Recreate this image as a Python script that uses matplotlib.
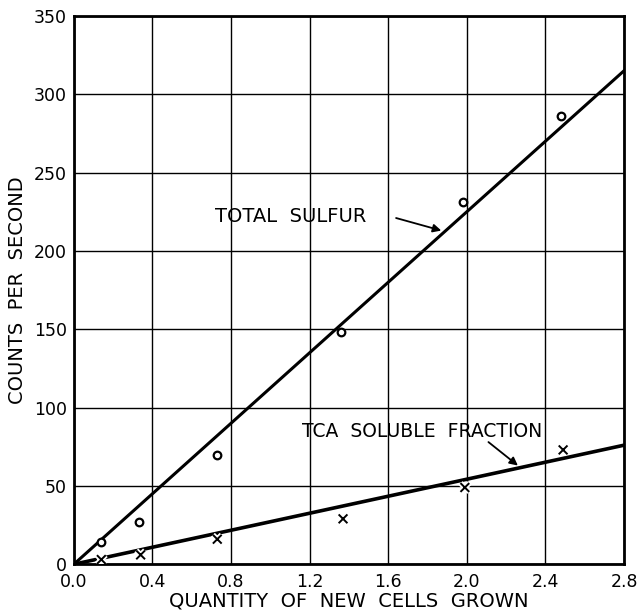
import matplotlib
matplotlib.use("Agg")
import matplotlib.pyplot as plt
import matplotlib.patheffects as pe
import numpy as np

# Data
total_x = [0.14, 0.33, 0.73, 1.36, 1.98, 2.48]
total_y = [14, 27, 70, 148, 231, 286]
tca_x = [0.14, 0.34, 0.73, 1.37, 1.99, 2.49]
tca_y = [3, 6, 16, 29, 49, 73]
total_fit_x = [0.0, 2.8]
total_fit_y = [0, 315]
tca_fit_x = [0.0, 2.8]
tca_fit_y = [0, 76]
xticks = [0.0, 0.4, 0.8, 1.2, 1.6, 2.0, 2.4, 2.8]
yticks = [0, 50, 100, 150, 200, 250, 300, 350]

plt.rcParams['font.family'] = ['DejaVu Sans']
fig = plt.figure(figsize=(6.42, 6.12), dpi=100)
ax = fig.add_axes([0.115, 0.078, 0.857, 0.896])

ax.set_xlim(0, 2.8)
ax.set_ylim(0, 350)
ax.set_xticks(xticks)
ax.set_xticklabels([f"{t:.1f}" for t in xticks], fontsize=12.5)
ax.set_yticks(yticks)
ax.set_yticklabels([str(t) for t in yticks], fontsize=12.5)
ax.tick_params(axis='x', length=0, pad=6)
ax.tick_params(axis='y', length=0, pad=5)
ax.grid(True, color='black', linewidth=1.0)
ax.set_axisbelow(True)
for s in ax.spines.values():
    s.set_linewidth(2)
    s.set_color('black')

ax.plot(total_fit_x, total_fit_y, color='black', linewidth=2.2, zorder=3)
ax.plot(tca_fit_x, tca_fit_y, color='black', linewidth=2.6, zorder=3)

ax.scatter(total_x, total_y, marker='o', s=30, facecolors='white',
           edgecolors='black', linewidths=1.6, zorder=5)
ax.scatter(tca_x, tca_y, marker='x', s=40, color='black', linewidths=1.4, zorder=5,
           path_effects=[pe.withStroke(linewidth=4, foreground='white')])

ax.text(0.72, 222, 'TOTAL  SULFUR', fontsize=14, va='center', ha='left')
ax.annotate('', xy=(1.87, 213), xytext=(1.64, 221),
            arrowprops=dict(arrowstyle='-|>', color='black', lw=1.3,
                            mutation_scale=12, shrinkA=0, shrinkB=0))
ax.text(1.77, 85, 'TCA  SOLUBLE  FRACTION', fontsize=13.5, va='center', ha='center')
ax.annotate('', xy=(2.26, 63), xytext=(2.11, 78),
            arrowprops=dict(arrowstyle='-|>', color='black', lw=1.3,
                            mutation_scale=12, shrinkA=0, shrinkB=0))

ax.set_xlabel('QUANTITY  OF  NEW  CELLS  GROWN', fontsize=14, labelpad=1)
ax.set_ylabel('COUNTS  PER  SECOND', fontsize=14, labelpad=5)

fig.savefig('out.png', dpi=100)
